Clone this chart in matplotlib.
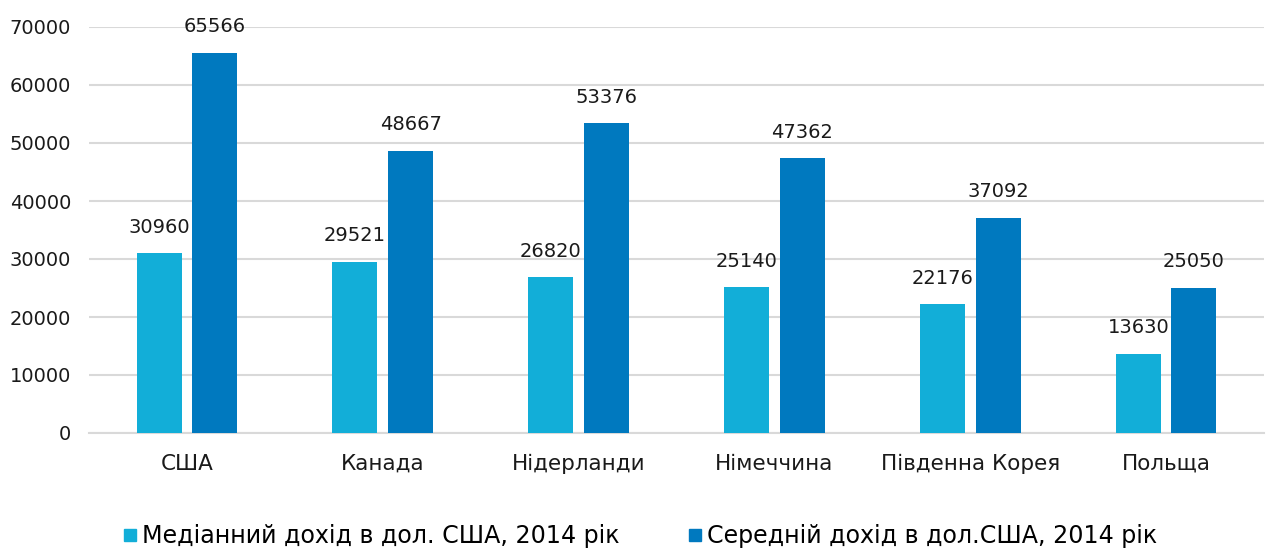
import matplotlib
matplotlib.use("Agg")
import matplotlib.pyplot as plt
import numpy as np
from matplotlib.lines import Line2D

categories = ["США", "Канада", "Нідерланди", "Німеччина", "Південна Корея", "Польща"]
median_income = [30960, 29521, 26820, 25140, 22176, 13630]
mean_income = [65566, 48667, 53376, 47362, 37092, 25050]
series_names = ["Медіанний дохід в дол. США, 2014 рік", "Середній дохід в дол.США, 2014 рік"]
yticks = [0, 10000, 20000, 30000, 40000, 50000, 60000, 70000]

c_med = "#12AED8"
c_mean = "#0079BF"

plt.rcParams['font.family'] = ['DejaVu Sans']
fig = plt.figure(figsize=(12.66, 5.52), dpi=100)
ax = fig.add_axes([89/1266, 1-433/552, 1175/1266, 406/552])

x = np.arange(len(categories))
w = 0.23
off = 0.142
b1 = ax.bar(x - off, median_income, width=w, color=c_med, zorder=3)
b2 = ax.bar(x + off, mean_income, width=w, color=c_mean, zorder=3)
for bars, vals in ((b1, median_income), (b2, mean_income)):
    for r, v in zip(bars, vals):
        ax.annotate(str(v), (r.get_x() + r.get_width()/2, v), xytext=(0, 12),
                    textcoords="offset points", ha="center", va="bottom",
                    fontsize=14, color="#1a1a1a")

ax.set_xlim(-0.5, len(categories) - 0.5)
ax.set_ylim(0, 70000)
ax.set_yticks(yticks)
ax.set_yticklabels([str(t) for t in yticks], fontsize=14, color="#1a1a1a")
ax.set_xticks(x)
ax.set_xticklabels(categories, fontsize=15.5, color="#1a1a1a")
ax.tick_params(axis="y", length=0, pad=13)
ax.tick_params(axis="x", length=0, pad=15)
ax.grid(axis="y", color="#D9D9D9", linewidth=1.5, zorder=0)
for s in ["top", "right", "left"]:
    ax.spines[s].set_visible(False)
ax.spines["bottom"].set_color("#D9D9D9")
ax.spines["bottom"].set_linewidth(1.5)

handles = [Line2D([], [], marker="s", linestyle="none", color=c, markersize=8) for c in (c_med, c_mean)]
fig.legend(handles, series_names, loc="center left", bbox_to_anchor=(124/1266, 1-536/552), ncol=2,
           frameon=False, fontsize=17.1, handletextpad=0.25, columnspacing=2.95, handlelength=0.5,
           borderpad=0, borderaxespad=0)

fig.savefig("out.png", dpi=100)
